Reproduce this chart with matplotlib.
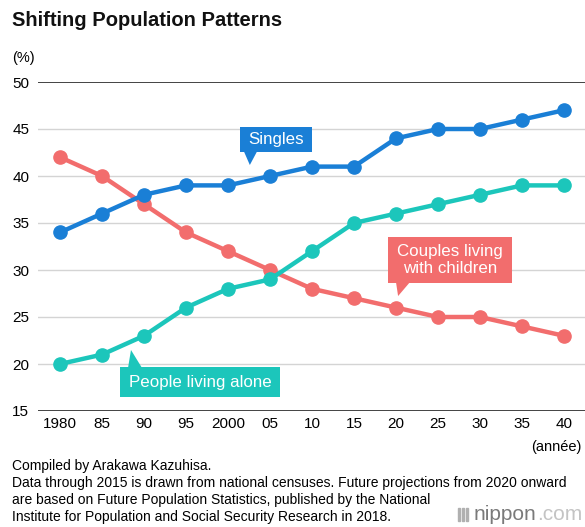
import matplotlib
matplotlib.use("Agg")
import matplotlib.pyplot as plt
from matplotlib.patches import Rectangle, Polygon

plt.rcParams['font.family'] = ['Liberation Sans', 'DejaVu Sans']

years = ["1980", "85", "90", "95", "2000", "05", "10", "15", "20", "25", "30", "35", "40"]
singles = [34, 36, 38, 39, 39, 40, 41, 41, 44, 45, 45, 46, 47]
couples = [42, 40, 37, 34, 32, 30, 28, 27, 26, 25, 25, 24, 23]
alone = [20, 21, 23, 26, 28, 29, 32, 35, 36, 37, 38, 39, 39]
yticks = [15, 20, 25, 30, 35, 40, 45, 50]

c_single = "#1a7fd6"
c_couple = "#f26d6d"
c_alone = "#1cc6bb"

fig = plt.figure(figsize=(5.85, 5.27), dpi=100)
ax = fig.add_axes([38/585, 1-411/527, 547/585, (411-82)/527])
x = list(range(len(years)))

ax.set_xlim(-0.524, 12.5)
ax.set_ylim(15, 50)
for s in ax.spines.values():
    s.set_visible(False)
for yv in yticks:
    if yv in (15, 50):
        ax.axhline(yv, color="#222222", lw=1.2, zorder=1)
    else:
        ax.axhline(yv, color="#d4d4d4", lw=1.0, zorder=1)

ax.plot(x, couples, color=c_couple, lw=3.2, marker='o', ms=9.5, zorder=3)
ax.plot(x, alone, color=c_alone, lw=3.2, marker='o', ms=9.5, zorder=4)
ax.plot(x, singles, color=c_single, lw=3.2, marker='o', ms=9.5, zorder=5)

ax.set_xticks(x)
ax.set_xticklabels(years, fontsize=11)
ax.set_yticks(yticks)
ax.set_yticklabels([str(v) for v in yticks], fontsize=11)
ax.tick_params(length=0, pad=4)
ax.tick_params(axis='y', pad=0)
for lab in ax.get_yticklabels():
    lab.set_horizontalalignment('left')
    lab.set_x(-0.047)

def label_box(x0, x1, y0, y1, tail, color, text):
    ax.add_patch(Rectangle((x0, y0), x1 - x0, y1 - y0, color=color, zorder=6, clip_on=False, lw=0))
    ax.add_patch(Polygon(tail, closed=True, color=color, zorder=6, clip_on=False, lw=0))
    ax.text((x0 + x1) / 2, (y0 + y1) / 2, text, color="white", fontsize=12.2,
            ha='center', va='center', zorder=7, linespacing=1.12)

label_box(4.286, 6.0, 42.55, 45.21, [(4.38, 42.6), (4.69, 42.6), (4.52, 41.17)], c_single, "Singles")
label_box(7.81, 10.76, 28.62, 33.51, [(8.0, 28.7), (8.33, 28.7), (8.05, 27.23)], c_couple,
          "Couples living\nwith children")
label_box(1.43, 5.24, 16.49, 19.68, [(1.62, 19.6), (1.95, 19.6), (1.69, 21.49)], c_alone, "People living alone")

fig.text(12/585, 1-20/527, "Shifting Population Patterns", fontsize=14.5, fontweight='bold',
         ha='left', va='center', color="#111111")
fig.text(12/585, 1-58/527, "(%)", fontsize=10.5, ha='left', va='center')
fig.text(582/585, 1-447/527, "(année)", fontsize=10.5, ha='right', va='center')

notes = ["Compiled by Arakawa Kazuhisa.",
         "Data through 2015 is drawn from national censuses. Future projections from 2020 onward",
         "are based on Future Population Statistics, published by the National",
         "Institute for Population and Social Security Research in 2018."]
note_y = [466, 483.5, 500, 517]
for line, yy in zip(notes, note_y):
    fig.text(12/585, 1-yy/527, line, fontsize=10.0, ha='left', va='center')

# nippon.com logo
for i in range(3):
    fig.patches.append(Rectangle(((458 + i * 4) / 585, 1 - 521/527), 1.6/585, 13/527,
                                 transform=fig.transFigure, color="#b0b0b0"))
t1 = fig.text(474/585, 1-520/527, "nippon", fontsize=15, ha='left', va='baseline',
              color="#7a7a7a")
fig.canvas.draw()
bb = t1.get_window_extent(fig.canvas.get_renderer())
fig.text(bb.x1 / fig.bbox.width + 0.5/585, 1-520/527, ".com", fontsize=15, ha='left',
         va='baseline', color="#c4c4c4")

fig.savefig("out.png", dpi=100)
